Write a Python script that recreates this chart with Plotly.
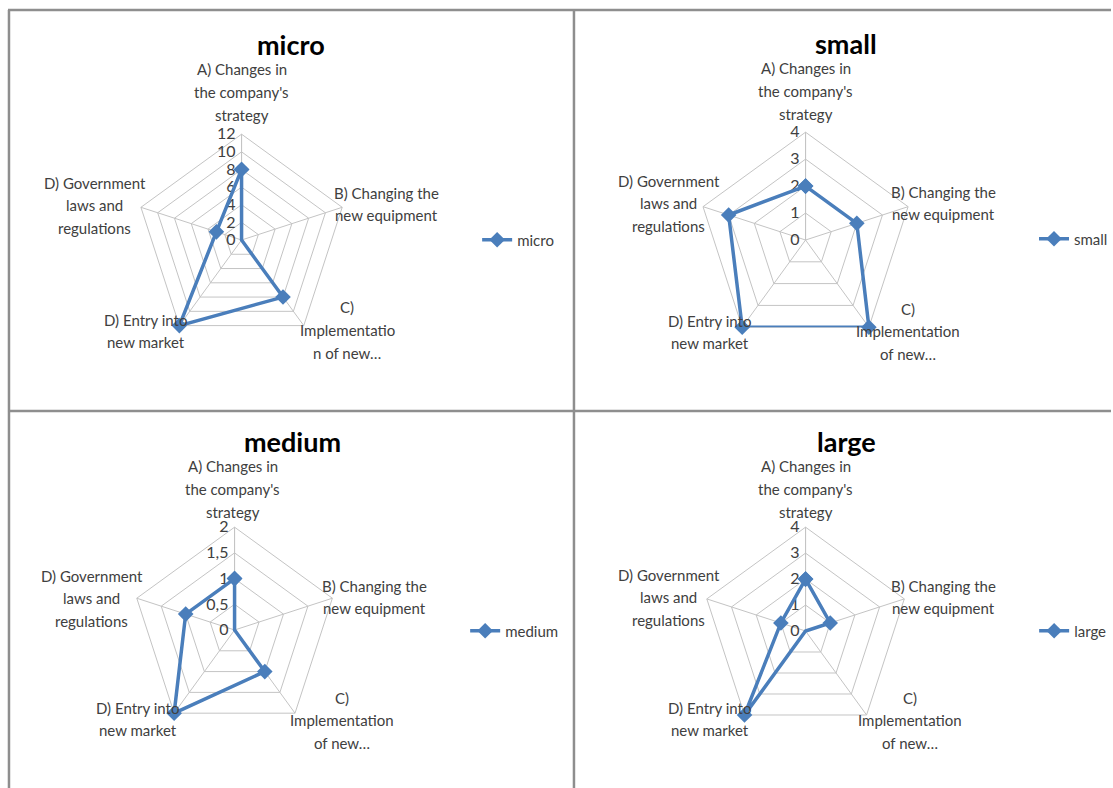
import plotly.graph_objects as go

W, H = 1113, 788

# Category axes, clockwise from the top
categories = [
    "A) Changes in the company's strategy",
    "B) Changing the new equipment",
    "C) Implementation of new...",
    "D) Entry into new market",
    "D) Government laws and regulations",
]

# Wrapped category captions (one entry per line)
labels_default = [
    ["A) Changes in", "the company's", "strategy"],
    ["B) Changing the", "new equipment"],
    ["C)", "Implementation", "of new…"],
    ["D) Entry into", "new market"],
    ["D) Government", "laws and", "regulations"],
]
labels_micro = [
    ["A) Changes in", "the company's", "strategy"],
    ["B) Changing the", "new equipment"],
    ["C)", "Implementatio", "n of new…"],
    ["D) Entry into", "new market"],
    ["D) Government", "laws and", "regulations"],
]

# Series values per company size
micro = [8, 0, 8, 12, 3]
small = [2, 2, 4, 4, 3]
medium = [1, 0, 1, 2, 1]
large = [2, 1, 0, 4, 1]

radial_max = {"micro": 12, "small": 4, "medium": 2, "large": 4}
radial_step = {"micro": 2, "small": 1, "medium": 0.5, "large": 1}

# caption block centres relative to the chart centre (pixels), per category
offsets_top_left = [(0, -148), (145, -36), (106, 90), (-96, 91), (-147, -35)]
offsets_top_right = [(0, -149), (138, -37), (103, 91), (-96, 92), (-137, -37)]
offsets_bottom_left = [(-2, -141), (140, -33), (108, 90), (-97, 89), (-143, -32)]
offsets_bottom_right = [(0, -142), (138, -34), (105, 89), (-96, 88), (-137, -34)]

# panel layout in pixels: centre x, centre y, radius, title position, legend position
panels = [
    ("micro", micro, labels_micro, offsets_top_left, (242, 240, 106), (292, 45), (478, 240)),
    ("small", small, labels_default, offsets_top_right, (807, 240, 108), (848, 43), (1036, 239)),
    ("medium", medium, labels_default, offsets_bottom_left, (235, 630, 103), (293, 441), (466, 631)),
    ("large", large, labels_default, offsets_bottom_right, (807, 631, 104), (848, 442), (1036, 631)),
]

LINE_H = 22.5

BLUE = "#4a7ebb"
GRID = "#c4c4c4"
TXT = "#404040"
FONT = "Lato, Liberation Sans, sans-serif"

fig = go.Figure()
annotations = []
layout_extra = {}

for i, (name, vals, labels, offs, (cx, cy, R), (tx, ty), (lx, ly)) in enumerate(panels):
    pid = "polar" if i == 0 else f"polar{i+1}"
    lid = "legend" if i == 0 else f"legend{i+1}"
    fig.add_trace(go.Scatterpolar(
        r=vals + vals[:1],
        theta=categories + categories[:1],
        mode="lines+markers",
        name=name,
        line=dict(color=BLUE, width=3.5),
        marker=dict(symbol="diamond", size=12, color=BLUE),
        subplot=pid,
        legend=lid,
    ))
    layout_extra[pid] = dict(
        domain=dict(x=[(cx - R) / W, (cx + R) / W],
                    y=[1 - (cy + R) / H, 1 - (cy - R) / H]),
        gridshape="linear",
        bgcolor="white",
        radialaxis=dict(
            range=[0, radial_max[name]],
            dtick=radial_step[name],
            tick0=0,
            angle=90,
            tickangle=90,
            side="counterclockwise",
            showline=True,
            linecolor=GRID,
            linewidth=1,
            gridcolor=GRID,
            gridwidth=1,
            ticks="",
            layer="below traces",
            tickfont=dict(family=FONT, size=16, color=TXT),
        ),
        angularaxis=dict(
            type="category",
            categoryarray=categories,
            direction="clockwise",
            rotation=90,
            showticklabels=False,
            showline=True,
            linecolor=GRID,
            linewidth=1,
            gridcolor=GRID,
            gridwidth=1,
            ticks="",
            layer="below traces",
        ),
    )
    layout_extra[lid] = dict(
        x=lx / W, y=1 - ly / H, xanchor="left", yanchor="middle",
        bgcolor="rgba(0,0,0,0)",
        font=dict(family=FONT, size=15, color=TXT),
        itemwidth=30,
    )
    annotations.append(dict(
        text=f"<b>{name}</b>", x=tx / W, y=1 - ty / H, xref="paper", yref="paper",
        showarrow=False, xanchor="center", yanchor="middle",
        font=dict(family=FONT, size=27, color="black"),
    ))
    # category captions, centred line by line
    for lines, (ox, oy) in zip(labels, offs):
        n = len(lines)
        for k, line in enumerate(lines):
            py = cy + oy + (k - (n - 1) / 2) * LINE_H
            annotations.append(dict(
                text=line, x=(cx + ox) / W, y=1 - py / H,
                xref="paper", yref="paper", showarrow=False,
                xanchor="center", yanchor="middle",
                font=dict(family=FONT, size=15, color=TXT),
            ))

# panel frames
BORDER = "#8e8e8e"
frame = [
    (8, 10, W, 10),
    (9, 10, 9, H),
    (575, 10, 575, H),
    (8, 411, W, 411),
]
shapes = [
    dict(type="line", xref="paper", yref="paper",
         x0=x0 / W, y0=1 - y0 / H, x1=x1 / W, y1=1 - y1 / H,
         line=dict(color=BORDER, width=2.5))
    for (x0, y0, x1, y1) in frame
]

fig.update_layout(
    width=W, height=H, autosize=False,
    margin=dict(l=0, r=0, t=0, b=0),
    paper_bgcolor="white",
    separators=", ",
    showlegend=True,
    annotations=annotations,
    shapes=shapes,
    **layout_extra,
)

fig.write_html("out.html")
